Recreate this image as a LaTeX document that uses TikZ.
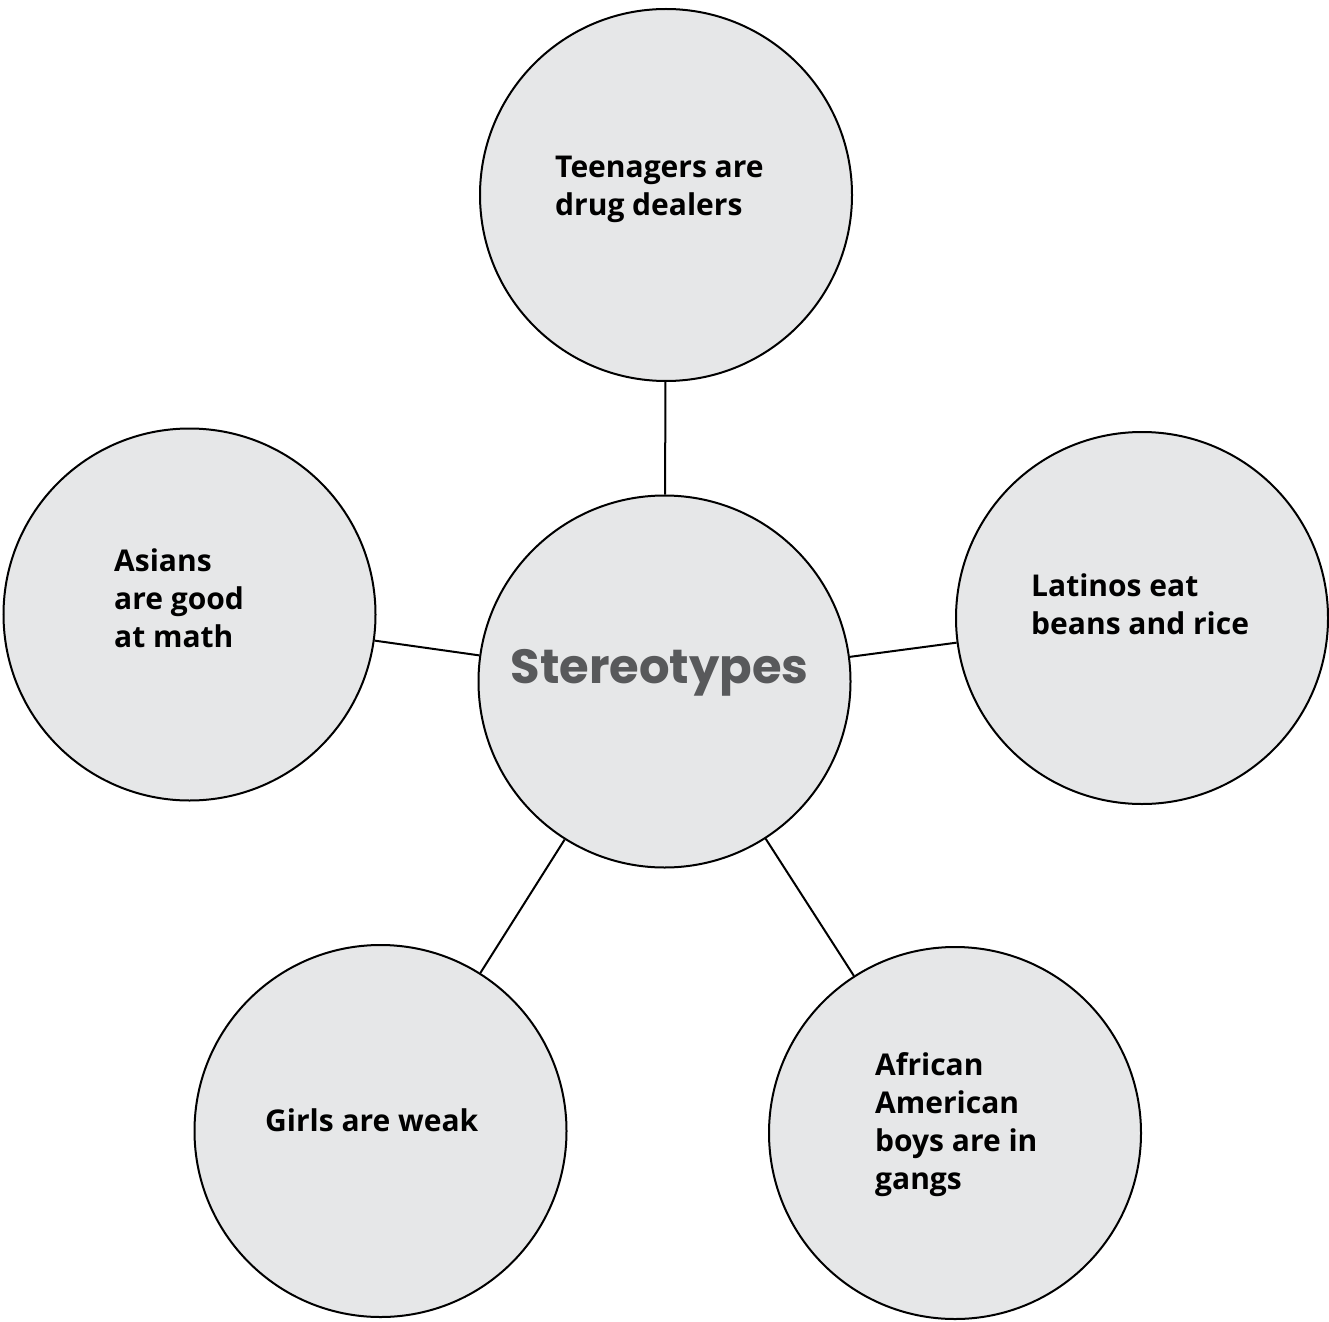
\documentclass[tikz,border=0pt]{standalone}
\usepackage{fontspec}
\setmainfont{Open Sans}
\newfontfamily\titlefont{Poppins}
\definecolor{circfill}{HTML}{E6E7E8}
\definecolor{titlegray}{HTML}{58595B}
\begin{document}
\begin{tikzpicture}[x=1pt,y=-1pt,
  bubble/.style={circle,draw=black,line width=2pt,fill=circfill,minimum size=372pt,inner sep=0pt},
  label/.style={anchor=west,align=left,inner sep=0pt,font=\fontsize{30}{38}\selectfont\bfseries},
  link/.style={draw=black,line width=2pt}]
\useasboundingbox (0,0) rectangle (1329,1321);
\node[bubble] (c) at (664.5,681.5) {};
\node[bubble] (t) at (666,195) {};
\node[bubble] (l) at (189.5,614.5) {};
\node[bubble] (r) at (1142,618) {};
\node[bubble] (bl) at (380.5,1131) {};
\node[bubble] (br) at (955,1133) {};
\draw[link] (c) -- (t);
\draw[link] (c) -- (l);
\draw[link] (c) -- (r);
\draw[link] (c) -- (bl);
\draw[link] (c) -- (br);
\node[label] (tt) at (555,189) {Teenagers are\\drug dealers};
\node[label] (lt) at (114,598) {Asians\\are good\\at math};
\node[label] (rt) at (1031,604) {Latinos eat\\beans and rice};
\node[label] (blt) at (265,1120) {Girls are weak};
\node[label] (brt) at (875,1125) {African\\American\\boys are in\\gangs};
\node[inner sep=0pt,text=titlegray,font=\titlefont\fontsize{48}{60}\selectfont\bfseries] (ct) at (659.5,673) {Stereotypes};
\end{tikzpicture}
\end{document}
